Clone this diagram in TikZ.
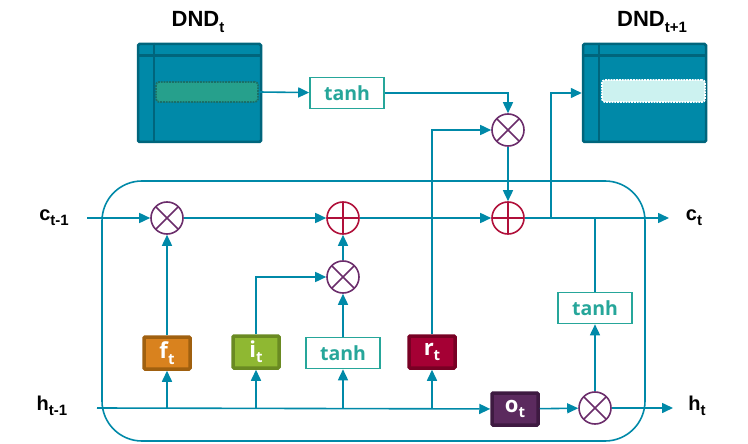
\documentclass[tikz,border=0pt]{standalone}
\usepackage{fontspec}
\setmainfont{Liberation Sans}
\newfontfamily\gatefont{Open Sans}
\usetikzlibrary{arrows.meta, positioning}

\definecolor{flow}{HTML}{0089A8}
\definecolor{flowdark}{HTML}{00657C}
\definecolor{tanhc}{HTML}{26A69A}
\definecolor{mulc}{HTML}{6B2D6B}
\definecolor{addc}{HTML}{B0103A}
\definecolor{slotold}{HTML}{26A08C}
\definecolor{slotolddark}{HTML}{1B6F68}
\definecolor{slotnew}{HTML}{CCF2F0}
\definecolor{fgate}{HTML}{D9821E}
\definecolor{fgatedark}{HTML}{A0600F}
\definecolor{igate}{HTML}{8FB832}
\definecolor{igatedark}{HTML}{6A8A22}
\definecolor{rgate}{HTML}{A50034}
\definecolor{rgatedark}{HTML}{780024}
\definecolor{ogate}{HTML}{5B2A5E}
\definecolor{ogatedark}{HTML}{3E1A41}

\newcommand{\subtxt}[2]{\raisebox{-0.45ex}{\fontsize{#1}{#1}\selectfont #2}}

\begin{document}
\begin{tikzpicture}[
    x=1pt, y=-1pt,
    lbl/.style={font=\fontsize{20}{21}\selectfont\bfseries, inner sep=0pt},
    arr/.style={draw=flow, line width=1.6pt, -{Triangle[length=11pt,width=10pt]}},
    wire/.style={draw=flow, line width=1.6pt},
    mem/.style={rectangle, draw=flowdark, fill=flow, line width=2.5pt,
                rounded corners=1.5pt, minimum width=123pt, minimum height=98pt},
    slot/.style={rectangle, densely dotted, line width=1.8pt, rounded corners=3pt},
    cell/.style={rectangle, draw=flow, line width=1.6pt, rounded corners=40pt,
                 minimum width=543pt, minimum height=260pt},
    gate/.style={rectangle, line width=3.5pt, rounded corners=1pt, text=white,
                 minimum width=46pt, minimum height=32pt, inner sep=0pt,
                 font=\gatefont\fontsize{22}{22}\selectfont\bfseries},
    tanhbox/.style={rectangle, draw=tanhc, line width=1.6pt, text=tanhc, fill=white,
                    minimum width=74pt, minimum height=31pt, inner sep=0pt,
                    font=\gatefont\fontsize{19.5}{19.5}\selectfont\bfseries},
    opnode/.style={circle, line width=1.6pt, minimum size=32pt, inner sep=0pt, fill=white},
    mul/.style={opnode, draw=mulc, path picture={
        \draw[mulc, line width=1.6pt]
          (path picture bounding box.north west) -- (path picture bounding box.south east)
          (path picture bounding box.north east) -- (path picture bounding box.south west);}},
    add/.style={opnode, draw=addc, path picture={
        \draw[addc, line width=1.6pt]
          (path picture bounding box.north) -- (path picture bounding box.south)
          (path picture bounding box.east) -- (path picture bounding box.west);}}
  ]
  \useasboundingbox (0,0) rectangle (748,444);

  %% memory tables
  \node[lbl, font=\fontsize{22}{23}\selectfont\bfseries] (dndold) at (198,22) {DND\subtxt{15}{t}};
  \node[lbl, font=\fontsize{22}{23}\selectfont\bfseries] (dndnew) at (652,22) {DND\subtxt{15}{t+1}};

  \node[mem] (mem0) at (199.5,93) {};
  \draw[flowdark, line width=2.5pt] ([yshift=-13pt]mem0.north west) -- ([yshift=-13pt]mem0.north east);
  \draw[flowdark, line width=2.5pt] ([xshift=17pt]mem0.north west) -- ([xshift=17pt]mem0.south west);
  \node[slot, draw=slotolddark, fill=slotold, minimum width=102pt, minimum height=20pt] (slot0) at (207,92) {};

  \node[mem] (mem1) at (644.5,93) {};
  \draw[flowdark, line width=2.5pt] ([yshift=-13pt]mem1.north west) -- ([yshift=-13pt]mem1.north east);
  \draw[flowdark, line width=2.5pt] ([xshift=17pt]mem1.north west) -- ([xshift=17pt]mem1.south west);
  \node[slot, draw=white, fill=slotnew, minimum width=103pt, minimum height=22pt] (slot1) at (653.5,91) {};

  %% cell outline
  \node[cell] (cell) at (373.5,311) {};

  %% inputs and outputs
  \node[lbl] (cprev) at (54,218) {c\subtxt{15}{t-1}};
  \node[lbl] (hprev) at (52,406) {h\subtxt{15}{t-1}};
  \node[lbl] (cnext) at (694,218) {c\subtxt{15}{t}};
  \node[lbl] (hnext) at (697,406) {h\subtxt{15}{t}};
  \coordinate (cin)  at (87,218);
  \coordinate (hin)  at (97,408);
  \coordinate (cout) at (669,218);
  \coordinate (hout) at (673,408);
  \coordinate (tap)  at (551,218);

  %% operators
  \node[mul] (mul0) at (167,218) {};
  \node[add] (add0) at (343,218) {};
  \node[mul] (mul1) at (343,277) {};
  \node[mul] (mul2) at (508,130) {};
  \node[add] (add1) at (508,218) {};
  \node[mul] (mul3) at (595,408) {};

  %% gates
  \node[gate, draw=fgatedark, fill=fgate] (fg) at (167,353) {f\subtxt{15}{t}};
  \node[gate, draw=igatedark, fill=igate] (ig) at (256,352) {i\subtxt{15}{t}};
  \node[tanhbox] (tanh2) at (343,353) {tanh};
  \node[gate, draw=rgatedark, fill=rgate] (rg) at (432,352) {r\subtxt{15}{t}};
  \node[gate, draw=ogatedark, fill=ogate] (og) at (515,409) {o\subtxt{15}{t}};
  \node[tanhbox] (tanh1) at (347,93) {tanh};
  \node[tanhbox] (tanh3) at (595,308) {tanh};

  %% cell state line
  \draw[arr] (cin) -- (mul0);
  \draw[arr] (mul0) -- (add0);
  \draw[arr] (add0) -- (add1);
  \draw[arr] (add1) -- (cout);

  %% hidden state line
  \draw[arr] (hin) -- (og);
  \draw[arr] (og) -- (mul3);
  \draw[arr] (mul3) -- (hout);

  %% gate inputs
  \draw[arr] (fg.south |- hin) -- (fg);
  \draw[arr] (ig.south |- hin) -- (ig);
  \draw[arr] (tanh2.south |- hin) -- (tanh2);
  \draw[arr] (rg.south |- hin) -- (rg);

  %% gate outputs
  \draw[arr] (fg) -- (mul0);
  \draw[arr] (ig.north) |- (mul1);
  \draw[arr] (tanh2) -- (mul1);
  \draw[arr] (mul1) -- (add0);
  \draw[arr] (rg.north) |- (mul2);
  \draw[arr] (mul2) -- (add1);

  %% memory read and write
  \draw[arr] (slot0.east) -- (tanh1);
  \draw[arr] (tanh1.east) -| (mul2);
  \draw[arr] (tap) |- (mem1.west);

  %% output branch
  \draw[arr] (mul3) -- (tanh3);
  \draw[wire] (tanh3) -- (tanh3 |- add1);
\end{tikzpicture}
\end{document}
